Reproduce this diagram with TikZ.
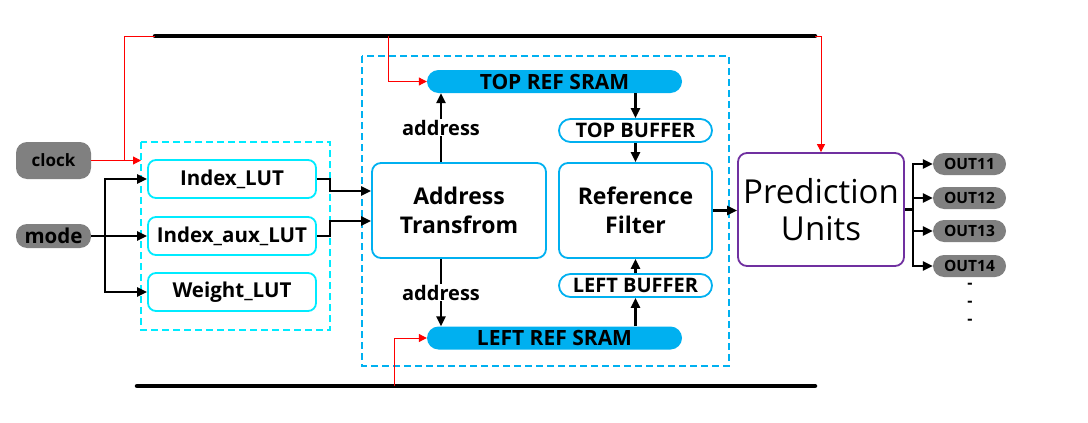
\documentclass[tikz,border=0pt]{standalone}
\usepackage{fontspec}
\setmainfont{Open Sans}
\usetikzlibrary{arrows.meta}
\definecolor{skyblue}{RGB}{0,176,240}
\definecolor{lutcyan}{RGB}{0,235,255}
\definecolor{pinkgray}{RGB}{128,128,128}
\definecolor{puviolet}{RGB}{112,48,160}
\tikzset{
  sig/.style={black, line width=2.3pt, -{Triangle[length=10pt,width=9pt]}},
  clk/.style={red, line width=1pt, -{Triangle[length=8pt,width=8pt]}},
  bus/.style={black, line width=4.5pt, line cap=round},
  lutbox/.style={draw=lutcyan, line width=1.8pt, rounded corners=8pt, minimum width=168pt, minimum height=38pt, inner sep=0pt, font=\fontsize{20.5}{20.5}\selectfont\bfseries},
  blkbox/.style={draw=skyblue, line width=1.8pt, rounded corners=9pt, minimum height=95pt, inner sep=0pt, align=center, font=\fontsize{23}{29}\selectfont\bfseries},
  bufbox/.style={draw=skyblue, line width=1.8pt, rounded corners=11.5pt, minimum width=153pt, minimum height=23pt, inner sep=0pt, font=\fontsize{20}{20}\selectfont\bfseries},
  srambox/.style={fill=skyblue, rounded corners=11.5pt, minimum width=255pt, minimum height=23pt, inner sep=0pt, font=\fontsize{21}{21}\selectfont\bfseries},
  inbox/.style={fill=pinkgray, rounded corners=11pt, minimum width=75pt, inner sep=0pt},
  outbox/.style={fill=pinkgray, rounded corners=11pt, minimum width=73pt, minimum height=22pt, inner sep=0pt, font=\fontsize{15.5}{15.5}\selectfont\bfseries},
  frame/.style={line width=1.2pt, dash pattern=on 7pt off 4pt},
  lbl/.style={fill=white, inner sep=1pt, font=\fontsize{20}{20}\selectfont\bfseries}
}
\begin{document}
\begin{tikzpicture}[x=1pt,y=-1pt]
  \useasboundingbox (0,0) rectangle (1088,423);
  \draw[bus] (155,36) coordinate (tbl) -- (815,36) coordinate (tbr);
  \draw[bus] (137,386) -- (815,386);
  \coordinate (tbx) at (388,36);
  \coordinate (bbx) at (394,386);

  \draw[frame, draw=lutcyan] (141,142) rectangle (330,330);
  \draw[frame, draw=skyblue] (362,56) rectangle (729,366);

  \node[inbox, minimum height=37pt, font=\fontsize{17}{17}\selectfont\bfseries] (clock) at (53.5,160.5) {clock};
  \node[inbox, minimum height=24pt, font=\fontsize{20.5}{20.5}\selectfont\bfseries] (mode) at (53.5,236) {mode};

  \node[lutbox] (ilut) at (232,179) {Index\_LUT};
  \node[lutbox] (iaux) at (232,236) {Index\_aux\_LUT};
  \node[lutbox] (wlut) at (232,292) {Weight\_LUT};

  \node[blkbox, minimum width=174pt] (addr) at (459,210.5) {Address\\Transfrom};
  \node[blkbox, minimum width=153pt] (filt) at (635.5,210.5) {Reference\\Filter};
  \node[bufbox] (topbuf) at (635.5,130.5) {TOP BUFFER};
  \node[bufbox] (leftbuf) at (635.5,285.5) {LEFT BUFFER};
  \node[srambox] (tops) at (554.5,81.5) {TOP REF SRAM};
  \node[srambox] (lefts) at (554.5,338) {LEFT REF SRAM};

  \node[draw=puviolet, line width=1.8pt, rounded corners=9pt, minimum width=166pt, minimum height=113pt, inner sep=0pt, align=center, font=\fontsize{33}{37}\selectfont] (pu) at (821,209.5) {Prediction\\Units};

  \foreach \n/\y in {11/164,12/198,13/231,14/266}
    \node[outbox] (o\n) at (969.5,\y) {OUT\n};
  \foreach \y in {286,304,322}
    \node[font=\fontsize{16}{16}\selectfont\bfseries] at (970,\y) {-};

  \coordinate (ckj) at (124,160.5);
  \draw[red, line width=1pt] (clock.east) -- (ckj) |- (tbl);
  \draw[clk] (ckj) -- (141,160.5);
  \draw[clk] (tbx) |- (tops.west);
  \draw[clk] (bbx) |- (lefts.west);
  \draw[clk] (tbr) -| (pu.north);

  \coordinate (mj) at (105,236);
  \draw[sig, -] (mode.east) -- (mj);
  \draw[sig] (mj) |- (ilut.west);
  \draw[sig] (mj) -- (iaux.west);
  \draw[sig] (mj) |- (wlut.west);
  \draw[sig] (ilut.east) -- ++(13,0) |- ([yshift=19.5pt]addr.west);
  \draw[sig] (iaux.east) -- ++(13,0) |- ([yshift=-10.5pt]addr.west);

  \draw[sig] ([xshift=-18pt]addr.north) -- node[lbl] {address} ([xshift=-18pt]addr.north|-tops.south);
  \draw[sig] ([xshift=-18pt]addr.south) -- node[lbl] {address} ([xshift=-18pt]addr.south|-lefts.north);
  \draw[sig] (topbuf.north|-tops.south) -- (topbuf.north);
  \draw[sig] (topbuf.south) -- (filt.north);
  \draw[sig] (leftbuf.south|-lefts.north) -- (leftbuf.south);
  \draw[sig] (leftbuf.north) -- (filt.south);
  \draw[sig] (filt.east) -- (filt.east-|pu.west);

  \coordinate (pj) at (913,209.5);
  \draw[sig, -] (pu.east) -- (pj);
  \foreach \n in {11,12,13,14}
    \draw[sig] (pj) |- (o\n.west);
\end{tikzpicture}
\end{document}
